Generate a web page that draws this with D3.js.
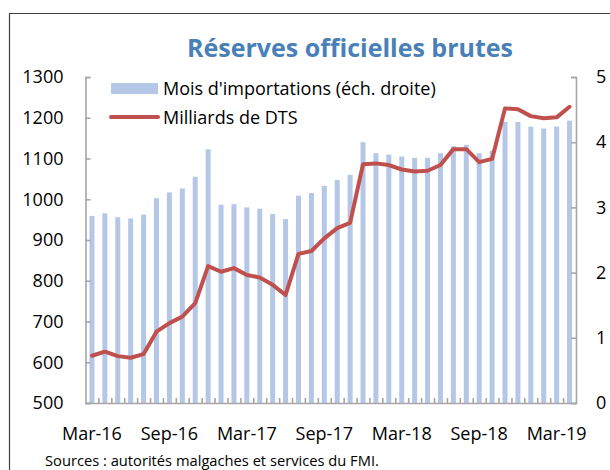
<!DOCTYPE html>
<html lang="fr">
<head>
    <meta charset="UTF-8">
    <title>Réserves officielles brutes</title>
    <script src="https://d3js.org/d3.v7.min.js"></script>
    <style>
        body { margin: 0; background: #fff; }
        svg text { font-family: "Open Sans", "Noto Sans", sans-serif; fill: #000; }
    </style>
</head>
<body>
    <div id="chart"></div>

    <script>
        // monthly categories, Mar-16 .. Apr-19
        var months = ["Mar-16","Apr-16","May-16","Jun-16","Jul-16","Aug-16","Sep-16","Oct-16","Nov-16","Dec-16",
            "Jan-17","Feb-17","Mar-17","Apr-17","May-17","Jun-17","Jul-17","Aug-17","Sep-17","Oct-17","Nov-17","Dec-17",
            "Jan-18","Feb-18","Mar-18","Apr-18","May-18","Jun-18","Jul-18","Aug-18","Sep-18","Oct-18","Nov-18","Dec-18",
            "Jan-19","Feb-19","Mar-19","Apr-19"];

        // Mois d'importations (right scale)
        var importMonths = [2.87,2.91,2.85,2.83,2.89,3.14,3.23,3.29,3.47,3.89,
            3.04,3.05,3.00,2.98,2.90,2.82,3.18,3.22,3.33,3.42,3.50,4.00,
            3.83,3.81,3.78,3.76,3.76,3.83,3.94,3.96,3.83,3.87,4.31,4.31,
            4.24,4.21,4.24,4.33];

        // Milliards de DTS (left scale)
        var reserves = [616,626,615,611,620,675,696,712,745,836,
            822,831,814,808,790,765,866,873,904,929,942,1086,
            1088,1084,1073,1068,1070,1084,1123,1123,1091,1099,1223,1221,
            1204,1199,1201,1227];

        var xTickLabels = ["Mar-16","Sep-16","Mar-17","Sep-17","Mar-18","Sep-18","Mar-19"];
        var leftTicks = [500,600,700,800,900,1000,1100,1200,1300];
        var rightTicks = [0,1,2,3,4,5];

        var title = "Réserves officielles brutes";
        var legendLabels = ["Mois d'importations (éch. droite)", "Milliards de DTS"];
        var source = "Sources : autorités malgaches et services du FMI.";

        var W = 610, H = 470;
        var plot = {left: 85.5, right: 576, top: 77, bottom: 403};

        var svg = d3.select("#chart")
            .append("svg")
            .attr("width", W)
            .attr("height", H);

        // outer frame (top and left edges visible)
        svg.append("path")
            .attr("d", "M9.5," + H + "V13.5H" + W)
            .attr("fill", "none")
            .attr("stroke", "#404040")
            .attr("stroke-width", 1.2);

        var x = d3.scaleBand()
            .domain(months)
            .range([plot.left, plot.right])
            .padding(0);
        var xEdge = d3.scaleLinear()
            .domain([0, months.length])
            .range([plot.left, plot.right]);
        var yL = d3.scaleLinear().domain([500, 1300]).range([plot.bottom, plot.top]);
        var yR = d3.scaleLinear().domain([0, 5]).range([plot.bottom, plot.top]);

        var barW = 5;
        var cx = function(d) { return x(d) + x.bandwidth() / 2; };

        // bars
        svg.append("g")
            .selectAll("rect")
            .data(months)
            .enter()
            .append("rect")
            .attr("x", function(d) { return cx(d) - barW / 2; })
            .attr("width", barW)
            .attr("y", function(d, i) { return yR(importMonths[i]); })
            .attr("height", function(d, i) { return yR(0) - yR(importMonths[i]); })
            .attr("fill", "#b4c7e7");

        // axes
        var axisColor = "#a6a6a6";

        var gL = svg.append("g")
            .attr("transform", "translate(" + plot.left + ",0)")
            .call(d3.axisLeft(yL).tickValues(leftTicks).tickSize(-5).tickSizeOuter(-5).tickPadding(22).tickFormat(d3.format("d")));
        var gR = svg.append("g")
            .attr("transform", "translate(" + plot.right + ",0)")
            .call(d3.axisRight(yR).tickValues(rightTicks).tickSize(-5).tickSizeOuter(-5).tickPadding(20).tickFormat(d3.format("d")));
        var gB = svg.append("g")
            .attr("transform", "translate(0," + plot.bottom + ")")
            .call(d3.axisBottom(xEdge).tickValues(d3.range(1, months.length)).tickSize(-5).tickSizeOuter(0).tickFormat(""));

        [gL, gR, gB].forEach(function(g) {
            g.selectAll("path, line").attr("stroke", axisColor).attr("stroke-width", 1.6);
            g.selectAll("text").attr("font-size", "18px").attr("fill", "#000")
                .style("font-family", "'Open Sans', sans-serif");
        });

        // x labels
        svg.append("g")
            .selectAll("text")
            .data(xTickLabels)
            .enter()
            .append("text")
            .attr("x", function(d) { return cx(d); })
            .attr("y", 440)
            .attr("text-anchor", "middle")
            .attr("font-size", "18px")
            .text(function(d) { return d; });

        // line
        var line = d3.line()
            .x(function(d, i) { return cx(months[i]); })
            .y(function(d) { return yL(d); });

        svg.append("path")
            .datum(reserves)
            .attr("d", line)
            .attr("fill", "none")
            .attr("stroke", "#c0504d")
            .attr("stroke-width", 4)
            .attr("stroke-linejoin", "round")
            .attr("stroke-linecap", "round");

        // title
        svg.append("text")
            .attr("x", 350)
            .attr("y", 57)
            .attr("text-anchor", "middle")
            .attr("font-size", "25px")
            .attr("font-weight", "bold")
            .style("fill", "#4a80b8")
            .text(title);

        // legend
        var leg = svg.append("g");
        leg.append("rect")
            .attr("x", 111).attr("y", 83)
            .attr("width", 47).attr("height", 11)
            .attr("fill", "#b4c7e7");
        leg.append("line")
            .attr("x1", 111).attr("x2", 158)
            .attr("y1", 117).attr("y2", 117)
            .attr("stroke", "#c0504d")
            .attr("stroke-width", 4)
            .attr("stroke-linecap", "round");
        leg.selectAll("text")
            .data(legendLabels)
            .enter()
            .append("text")
            .attr("x", 163)
            .attr("y", function(d, i) { return 95 + i * 29; })
            .attr("font-size", "18px")
            .text(function(d) { return d; });

        // source
        svg.append("text")
            .attr("x", 45)
            .attr("y", 466)
            .attr("font-size", "14.7px")
            .text(source);
    </script>
</body>
</html>
